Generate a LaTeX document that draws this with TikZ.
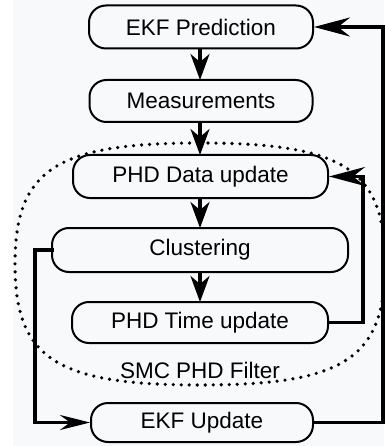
\documentclass[tikz,border=0pt]{standalone}
\usepackage{fontspec}
\setmainfont{Liberation Sans}
\usetikzlibrary{arrows.meta}
\definecolor{bgtint}{RGB}{248,249,251}
\tikzset{
  box/.style={draw, line width=2pt, rounded corners=17pt, inner sep=0pt,
    font=\fontsize{22.5}{26}\selectfont, text=black},
  conn/.style={line width=3.2pt},
  vtip/.style={-{Stealth[length=26pt,width=19pt,inset=8pt]}},
  htip/.style={-{Stealth[length=36pt,width=19pt,inset=12pt]}},
  ltip/.style={-{Stealth[length=30pt,width=15pt,inset=10pt]}},
  dotline/.style={line width=3.6pt, line cap=round, dash pattern=on 0pt off 8pt},
}
\begin{document}
\begin{tikzpicture}[x=1pt,y=-1pt]
\fill[white] (0,0) rectangle (384,446);
\fill[bgtint] (13,0) rectangle (384,446);
\useasboundingbox (0,0) rectangle (384,446);

% filter region
\draw[dotline] (200,143) .. controls (344,143) and (385,169.6) .. (385,264)
  .. controls (385,358.4) and (344,385) .. (200,385)
  .. controls (56,385) and (15,358.4) .. (15,264)
  .. controls (15,169.6) and (56,143) .. cycle;

\node[box, minimum width=224pt, minimum height=43pt] (pred) at (201,27) {EKF Prediction};
\node[box, minimum width=223pt, minimum height=42pt] (meas) at (201,101) {Measurements};
\node[box, minimum width=255pt, minimum height=43pt] (data) at (200.5,176.5) {PHD Data update};
\node[box, minimum width=296pt, minimum height=44pt] (clus) at (200,250) {Clustering};
\node[box, minimum width=256pt, minimum height=41pt] (time) at (200,322.5) {PHD Time update};
\node[box, minimum width=222pt, minimum height=39pt] (upd) at (202,422.5) {EKF Update};
\node[font=\fontsize{22.5}{26}\selectfont, text=black] (lbl) at (200,370) {SMC PHD Filter};

\coordinate (lx) at (35,0);
\coordinate (rx) at (363,0);
\coordinate (ox) at (383,0);

\draw[conn, vtip] (200,49) -- (200,80);
\draw[conn, vtip] (200,122.5) -- (200,155);
\draw[conn, vtip] (200,198.5) -- (200,228);
\draw[conn, vtip] (200,272.5) -- (200,302);

\draw[conn, htip] (time.east) -- (time.east -| rx) -- (rx |- data.east) -- (data.east);
\draw[conn, htip] (upd.east) -- (upd.east -| ox) -- (ox |- pred.east) -- (pred.east);
\draw[conn, ltip] ([xshift=3pt]clus.west) -- (clus.west -| lx) -- (lx |- upd.west) -- (upd.west);
\end{tikzpicture}
\end{document}
